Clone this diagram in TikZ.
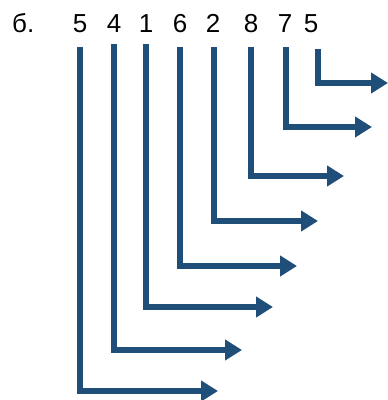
\documentclass[tikz,border=0pt]{standalone}
\usepackage{fontspec}
\setmainfont{Liberation Sans}
\usetikzlibrary{arrows.meta}
\definecolor{pfeilblau}{RGB}{31,78,121}

\begin{document}
\begin{tikzpicture}[x=1pt,y=-1pt,
ziffer/.style={font=\fontsize{26}{30}\selectfont, inner sep=0pt, anchor=base},
pfeil/.style={pfeilblau, line width=5.5pt, -{Triangle[length=17pt,width=20pt]}},
]
\useasboundingbox (0,0) rectangle (388,400);

\node[ziffer, anchor=base west] (nr) at (12,32) {б.};

\node[ziffer] (z1) at (80,32) {5};
\node[ziffer] (z2) at (114,32) {4};
\node[ziffer] (z3) at (146,32) {1};
\node[ziffer] (z4) at (180,32) {6};
\node[ziffer] (z5) at (213,32) {2};
\node[ziffer] (z6) at (251,32) {8};
\node[ziffer] (z7) at (285,32) {7};
\node[ziffer] (z8) at (311,32) {5};

\coordinate (o1) at (80,47);
\coordinate (o2) at (114,44);
\coordinate (o3) at (146,44);
\coordinate (o4) at (180,47);
\coordinate (o5) at (214,47);
\coordinate (o6) at (251,47);
\coordinate (o7) at (286,47);
\coordinate (o8) at (318,49);

\coordinate (e1) at (218,391);
\coordinate (e2) at (242,350);
\coordinate (e3) at (273,307);
\coordinate (e4) at (297,266);
\coordinate (e5) at (318,221);
\coordinate (e6) at (344,176);
\coordinate (e7) at (372,127);
\coordinate (e8) at (388,83);

\draw[pfeil] (o1) |- (e1);
\draw[pfeil] (o2) |- (e2);
\draw[pfeil] (o3) |- (e3);
\draw[pfeil] (o4) |- (e4);
\draw[pfeil] (o5) |- (e5);
\draw[pfeil] (o6) |- (e6);
\draw[pfeil] (o7) |- (e7);
\draw[pfeil] (o8) |- (e8);

\end{tikzpicture}
\end{document}
